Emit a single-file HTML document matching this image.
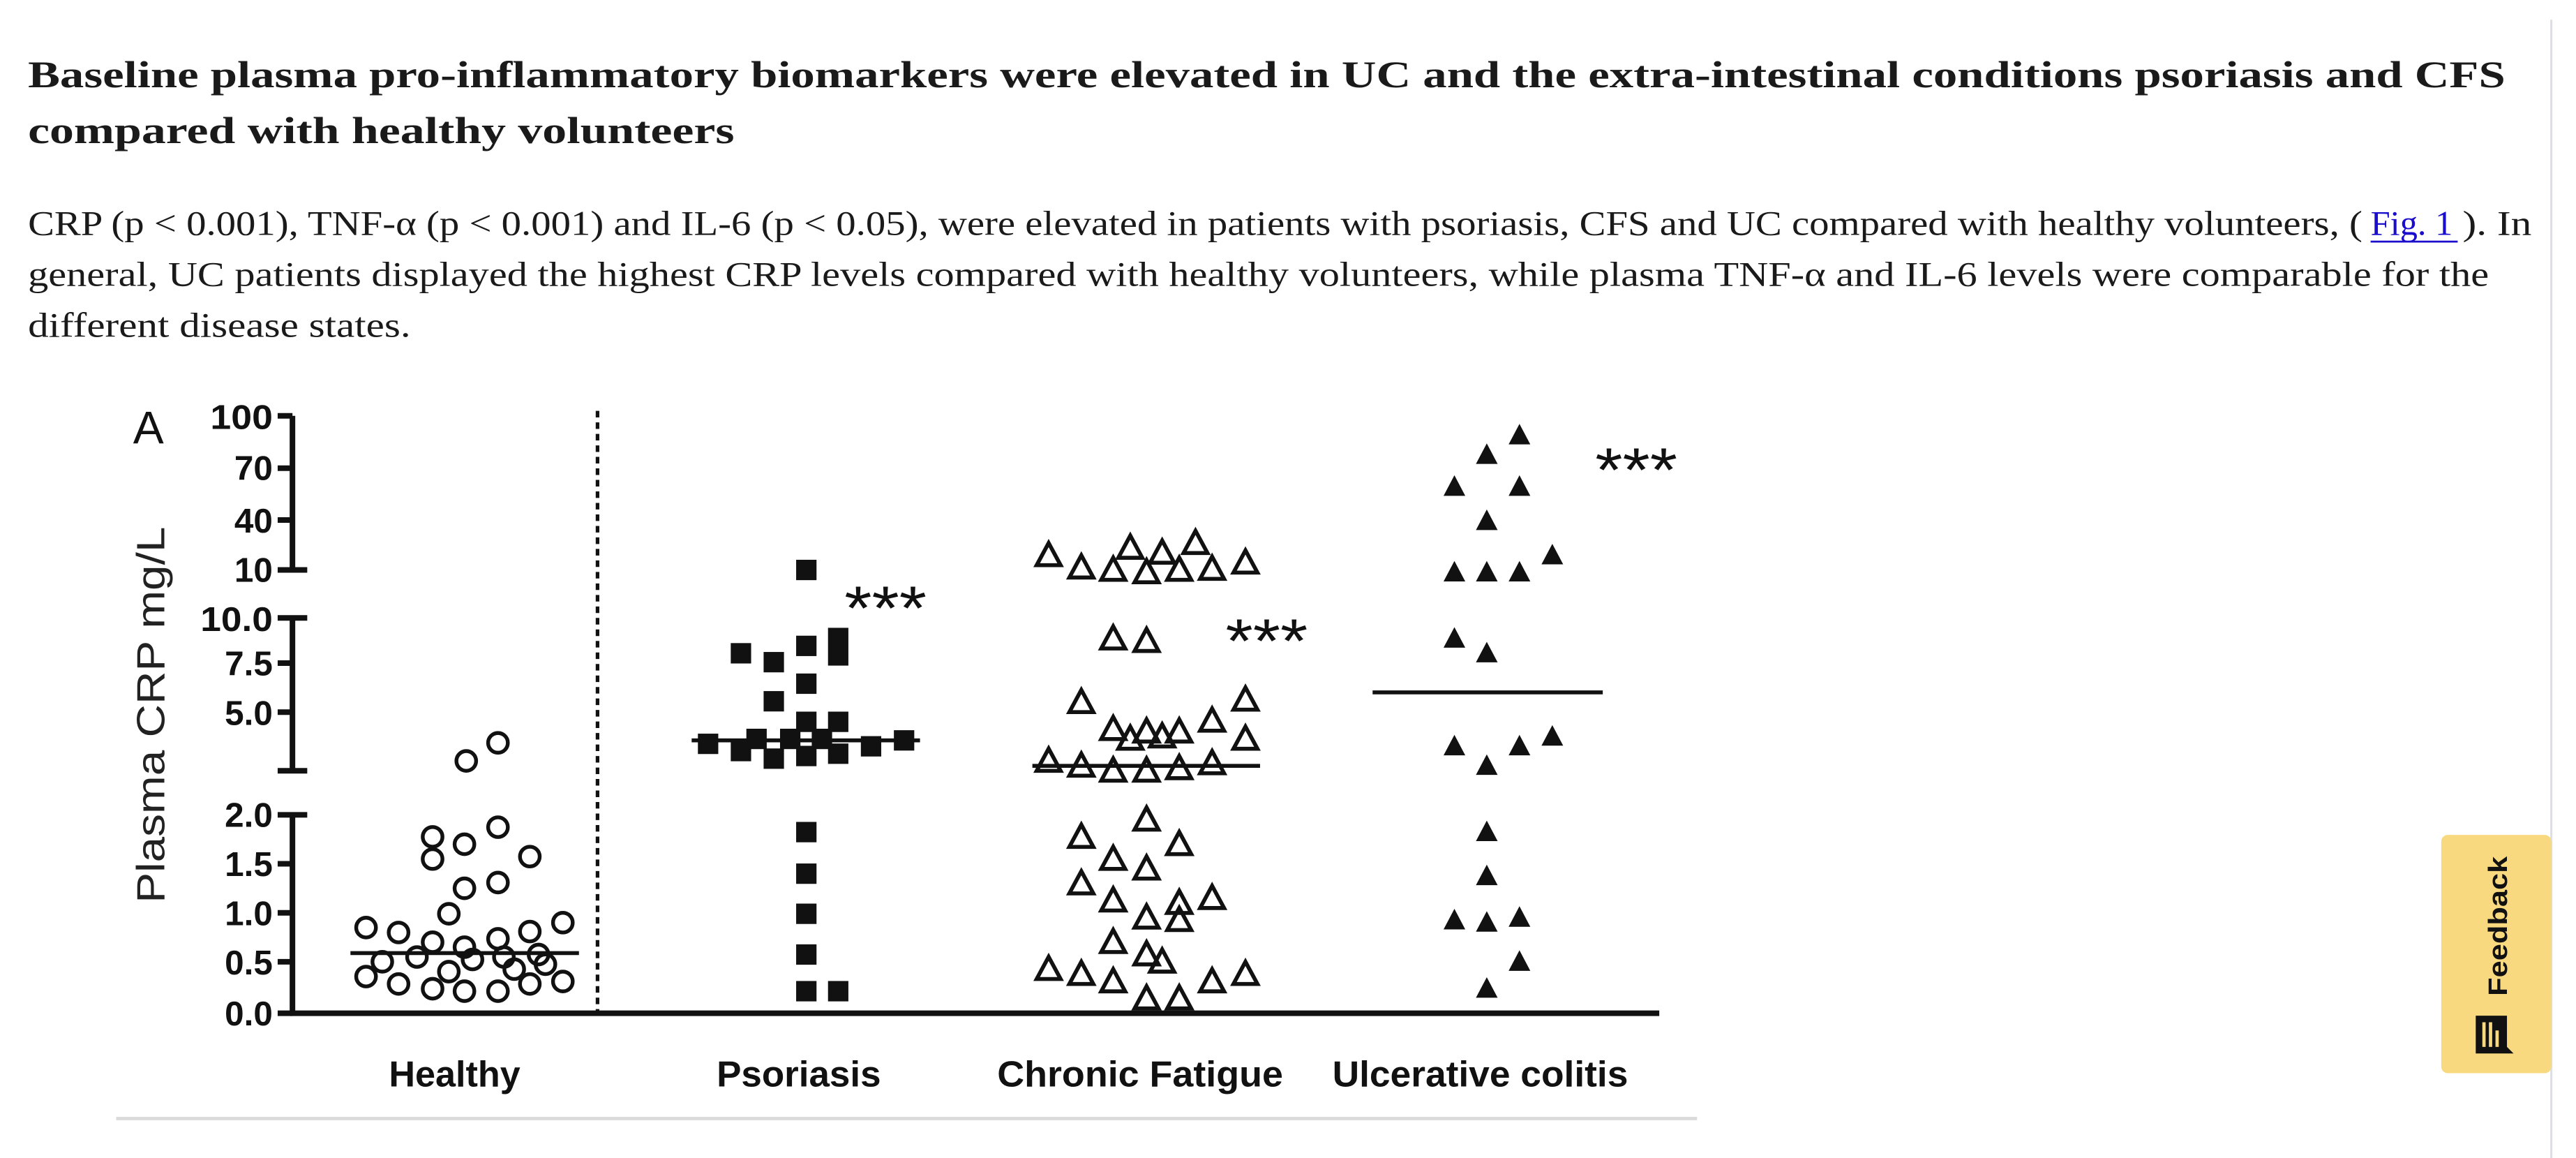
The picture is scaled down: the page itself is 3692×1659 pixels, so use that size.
<!DOCTYPE html>
<html><head><meta charset="utf-8"><style>
html,body{margin:0;padding:0;background:#fff;width:3692px;height:1659px;overflow:hidden}
svg{display:block}
</style></head><body>
<svg width="3692" height="1659" viewBox="0 0 1568 704.6" xmlns="http://www.w3.org/2000/svg">
<defs>
<path id="to" d="M0,-7.5 L7.3,6 L-7.3,6 Z" fill="none" stroke="#111" stroke-width="2.4" stroke-linejoin="miter"/>
<path id="tf" d="M0,-7 L6.6,5.5 L-6.6,5.5 Z" fill="#111"/>
<rect id="sq" x="-6.2" y="-6.2" width="12.4" height="12.4" fill="#111"/>
<circle id="ci" r="6" fill="none" stroke="#111" stroke-width="2.3"/>
</defs>
<rect width="1568" height="704.6" fill="#fff"/>
<line x1="1553" y1="12" x2="1553" y2="704.6" stroke="#dcdfe4" stroke-width="1.3"/>

<g font-family="Liberation Serif, serif" fill="#1a1a1a">
<text x="17" y="53" font-size="23" font-weight="bold" textLength="1508" lengthAdjust="spacingAndGlyphs">Baseline plasma pro-inflammatory biomarkers were elevated in UC and the extra-intestinal conditions psoriasis and CFS</text>
<text x="17" y="87" font-size="23" font-weight="bold" textLength="430" lengthAdjust="spacingAndGlyphs">compared with healthy volunteers</text>
<text x="17" y="143" font-size="21" textLength="1421" lengthAdjust="spacingAndGlyphs">CRP (p &lt; 0.001), TNF-α (p &lt; 0.001) and IL-6 (p &lt; 0.05), were elevated in patients with psoriasis, CFS and UC compared with healthy volunteers, (</text>
<text x="1443" y="143" font-size="21" fill="#1a0dcc" textLength="50" lengthAdjust="spacingAndGlyphs">Fig. 1</text>
<line x1="1443" y1="147" x2="1496" y2="147" stroke="#1a0dcc" stroke-width="1.2"/>
<text x="1499" y="143" font-size="21" textLength="42" lengthAdjust="spacingAndGlyphs">). In</text>
<text x="17" y="174" font-size="21" textLength="1498" lengthAdjust="spacingAndGlyphs">general, UC patients displayed the highest CRP levels compared with healthy volunteers, while plasma TNF-α and IL-6 levels were comparable for the</text>
<text x="17" y="205" font-size="21" textLength="233" lengthAdjust="spacingAndGlyphs">different disease states.</text>
</g>

<g stroke="#111" stroke-width="3.4" fill="none">
<line x1="178" y1="253" x2="178" y2="346.8"/>
<line x1="178" y1="376" x2="178" y2="469"/>
<line x1="178" y1="495.8" x2="178" y2="616.5"/>
<line x1="176.5" y1="616.5" x2="1010" y2="616.5"/>
<line x1="169" y1="253" x2="178" y2="253"/>
<line x1="169" y1="284.9" x2="178" y2="284.9"/>
<line x1="169" y1="316.4" x2="178" y2="316.4"/>
<line x1="169" y1="346.8" x2="187" y2="346.8"/>
<line x1="169" y1="376" x2="187" y2="376"/>
<line x1="169" y1="403.5" x2="178" y2="403.5"/>
<line x1="169" y1="433.3" x2="178" y2="433.3"/>
<line x1="169" y1="469" x2="187" y2="469"/>
<line x1="169" y1="495.8" x2="187" y2="495.8"/>
<line x1="169" y1="525.6" x2="178" y2="525.6"/>
<line x1="169" y1="555.4" x2="178" y2="555.4"/>
<line x1="169" y1="585.2" x2="178" y2="585.2"/>
<line x1="169" y1="616.5" x2="178" y2="616.5"/>
</g>
<line x1="363.7" y1="250" x2="363.7" y2="616" stroke="#111" stroke-width="2.2" stroke-dasharray="4,3"/>

<g font-family="Liberation Sans, sans-serif" font-weight="bold" font-size="21" fill="#111" text-anchor="end">
<text x="166" y="261" textLength="38" lengthAdjust="spacingAndGlyphs">100</text>
<text x="166" y="292">70</text>
<text x="166" y="324">40</text>
<text x="166" y="354">10</text>
<text x="166" y="384" textLength="44" lengthAdjust="spacingAndGlyphs">10.0</text>
<text x="166" y="411">7.5</text>
<text x="166" y="441">5.0</text>
<text x="166" y="503">2.0</text>
<text x="166" y="533">1.5</text>
<text x="166" y="563">1.0</text>
<text x="166" y="593">0.5</text>
<text x="166" y="624">0.0</text>
</g>
<text x="81" y="270" font-family="Liberation Sans, sans-serif" font-size="28" fill="#111">A</text>
<text transform="translate(100,435) rotate(-90)" text-anchor="middle" font-family="Liberation Sans, sans-serif" font-size="24" fill="#222" textLength="229" lengthAdjust="spacingAndGlyphs">Plasma  CRP mg/L</text>

<g font-family="Liberation Sans, sans-serif" font-weight="bold" font-size="22" fill="#111" text-anchor="middle">
<text x="276.7" y="661" textLength="80" lengthAdjust="spacingAndGlyphs">Healthy</text>
<text x="486.2" y="661" textLength="100" lengthAdjust="spacingAndGlyphs">Psoriasis</text>
<text x="694" y="661" textLength="174" lengthAdjust="spacingAndGlyphs">Chronic Fatigue</text>
<text x="901" y="661" textLength="180" lengthAdjust="spacingAndGlyphs">Ulcerative colitis</text>
</g>

<g font-family="Liberation Sans, sans-serif" font-size="38" fill="#111">
<text x="514" y="383" textLength="50" lengthAdjust="spacingAndGlyphs">***</text>
<text x="746" y="403" textLength="50" lengthAdjust="spacingAndGlyphs">***</text>
<text x="971" y="299" textLength="50" lengthAdjust="spacingAndGlyphs">***</text>
</g>

<g>
<use href="#ci" x="283.8" y="463"/><use href="#ci" x="303.1" y="452"/>
<use href="#ci" x="303.1" y="503.3"/><use href="#ci" x="263.3" y="509.2"/><use href="#ci" x="282.7" y="513.7"/><use href="#ci" x="263.3" y="522.7"/><use href="#ci" x="322.5" y="521.2"/>
<use href="#ci" x="303.1" y="537"/><use href="#ci" x="282.7" y="540.5"/><use href="#ci" x="273.2" y="556"/>
<use href="#ci" x="222.8" y="564.4"/><use href="#ci" x="242.6" y="567.4"/><use href="#ci" x="263.3" y="573.3"/><use href="#ci" x="282.7" y="576.3"/><use href="#ci" x="303.1" y="571.2"/><use href="#ci" x="322.5" y="566.8"/><use href="#ci" x="342.6" y="561.4"/>
<use href="#ci" x="232.7" y="585.2"/><use href="#ci" x="253.8" y="582.3"/><use href="#ci" x="287.6" y="583.8"/><use href="#ci" x="306.7" y="582.3"/><use href="#ci" x="327.8" y="580.8"/><use href="#ci" x="332" y="586.7"/>
<use href="#ci" x="222.8" y="594.2"/><use href="#ci" x="242.6" y="598.7"/><use href="#ci" x="263.3" y="601.6"/><use href="#ci" x="282.7" y="603.1"/><use href="#ci" x="303.1" y="603.1"/><use href="#ci" x="322.5" y="598.7"/><use href="#ci" x="342.6" y="597.2"/><use href="#ci" x="273.2" y="591.2"/><use href="#ci" x="313" y="589.7"/>
</g>
<line x1="213.3" y1="579.9" x2="352.4" y2="579.9" stroke="#111" stroke-width="2.4"/>

<g>
<use href="#sq" x="490.8" y="346.8"/>
<use href="#sq" x="451" y="397.5"/><use href="#sq" x="471" y="402.9"/><use href="#sq" x="490.8" y="393"/>
<rect x="504" y="382" width="12.4" height="23" fill="#111"/>
<use href="#sq" x="490.8" y="416"/><use href="#sq" x="471" y="426.7"/>
<use href="#sq" x="490.8" y="439.2"/><use href="#sq" x="510.2" y="439.2"/>
<use href="#sq" x="431" y="452.6"/><use href="#sq" x="451" y="457"/><use href="#sq" x="460.5" y="449.6"/><use href="#sq" x="471" y="461.6"/><use href="#sq" x="481" y="449.6"/><use href="#sq" x="490.8" y="460"/><use href="#sq" x="500.3" y="449.6"/><use href="#sq" x="510.2" y="458.6"/><use href="#sq" x="530.2" y="454.1"/><use href="#sq" x="550.3" y="450.5"/>
<use href="#sq" x="490.8" y="506.3"/><use href="#sq" x="490.8" y="531.6"/><use href="#sq" x="490.8" y="556"/><use href="#sq" x="490.8" y="580.8"/><use href="#sq" x="490.8" y="603.1"/><use href="#sq" x="510.2" y="603.1"/>
</g>
<line x1="421" y1="450.5" x2="560" y2="450.5" stroke="#111" stroke-width="2.4"/>

<g>
<use href="#to" x="638.3" y="337.9"/><use href="#to" x="658.2" y="345.4"/><use href="#to" x="677.6" y="346.8"/><use href="#to" x="688" y="333.4"/><use href="#to" x="697.9" y="348.3"/><use href="#to" x="707.4" y="336.4"/><use href="#to" x="717.8" y="346.8"/><use href="#to" x="727.7" y="330.5"/><use href="#to" x="737.8" y="346.2"/><use href="#to" x="758.1" y="342.4"/>
<use href="#to" x="677.6" y="388.6"/><use href="#to" x="697.9" y="390.1"/>
<use href="#to" x="658.2" y="427.3"/><use href="#to" x="758.1" y="425.8"/>
<use href="#to" x="677.6" y="443.7"/><use href="#to" x="688" y="449.6"/><use href="#to" x="697.9" y="445.2"/><use href="#to" x="707.4" y="448.2"/><use href="#to" x="717.8" y="445.2"/><use href="#to" x="737.8" y="438.6"/><use href="#to" x="758.1" y="449.6"/>
<use href="#to" x="638.3" y="463"/><use href="#to" x="658.2" y="466"/><use href="#to" x="677.6" y="469"/><use href="#to" x="697.9" y="469"/><use href="#to" x="717.8" y="467.5"/><use href="#to" x="737.8" y="464.5"/>
<use href="#to" x="697.9" y="498.8"/><use href="#to" x="658.2" y="509.3"/><use href="#to" x="717.8" y="513.7"/>
<use href="#to" x="677.6" y="522.7"/><use href="#to" x="697.9" y="528.6"/>
<use href="#to" x="658.2" y="537.6"/><use href="#to" x="677.6" y="548"/><use href="#to" x="717.8" y="549.5"/><use href="#to" x="737.8" y="546.5"/>
<use href="#to" x="697.9" y="558.4"/><use href="#to" x="717.8" y="559.9"/>
<use href="#to" x="677.6" y="573.3"/><use href="#to" x="697.9" y="580.8"/><use href="#to" x="707.4" y="585.2"/>
<use href="#to" x="638.3" y="589.7"/><use href="#to" x="658.2" y="592.7"/><use href="#to" x="677.6" y="597.2"/><use href="#to" x="737.8" y="597.2"/><use href="#to" x="758.1" y="592.7"/>
<use href="#to" x="697.9" y="607.6"/><use href="#to" x="717.8" y="607.6"/>
</g>
<line x1="628.4" y1="466" x2="767" y2="466" stroke="#111" stroke-width="2.4"/>

<g>
<use href="#tf" x="924.9" y="264.9"/><use href="#tf" x="905" y="276.8"/>
<use href="#tf" x="885.3" y="296.2"/><use href="#tf" x="924.9" y="296.2"/>
<use href="#tf" x="905" y="317"/>
<use href="#tf" x="944.9" y="337.9"/>
<use href="#tf" x="885.3" y="348.3"/><use href="#tf" x="905" y="348.3"/><use href="#tf" x="924.9" y="348.3"/>
<use href="#tf" x="885.3" y="388.6"/><use href="#tf" x="905" y="397.5"/>
<use href="#tf" x="885.3" y="454.1"/><use href="#tf" x="905" y="466"/><use href="#tf" x="924.9" y="454.1"/><use href="#tf" x="944.9" y="448.2"/>
<use href="#tf" x="905" y="506.3"/>
<use href="#tf" x="905" y="533.1"/>
<use href="#tf" x="885.3" y="560"/><use href="#tf" x="905" y="561.4"/><use href="#tf" x="924.9" y="558.4"/>
<use href="#tf" x="924.9" y="585.2"/>
<use href="#tf" x="905" y="601.6"/>
</g>
<line x1="835.5" y1="421.3" x2="975.6" y2="421.3" stroke="#111" stroke-width="2.4"/>

<line x1="70.7" y1="680.6" x2="1033" y2="680.6" stroke="#dadada" stroke-width="2"/>

<rect x="1486" y="508" width="67" height="145" rx="4" fill="#f9d97f"/>
<text transform="translate(1526,563.5) rotate(-90)" text-anchor="middle" font-family="Liberation Sans, sans-serif" font-weight="bold" font-size="16" fill="#111" textLength="85" lengthAdjust="spacingAndGlyphs">Feedback</text>
<path d="M1507,618 L1526,618 L1526,637 L1530,641 L1507,641 Z" fill="#111"/>
<rect x="1511" y="622" width="2" height="15" fill="#f9d97f"/>
<rect x="1515" y="622" width="2" height="15" fill="#f9d97f"/>
<rect x="1519" y="627" width="2" height="10" fill="#f9d97f"/>
</svg>
</body></html>
